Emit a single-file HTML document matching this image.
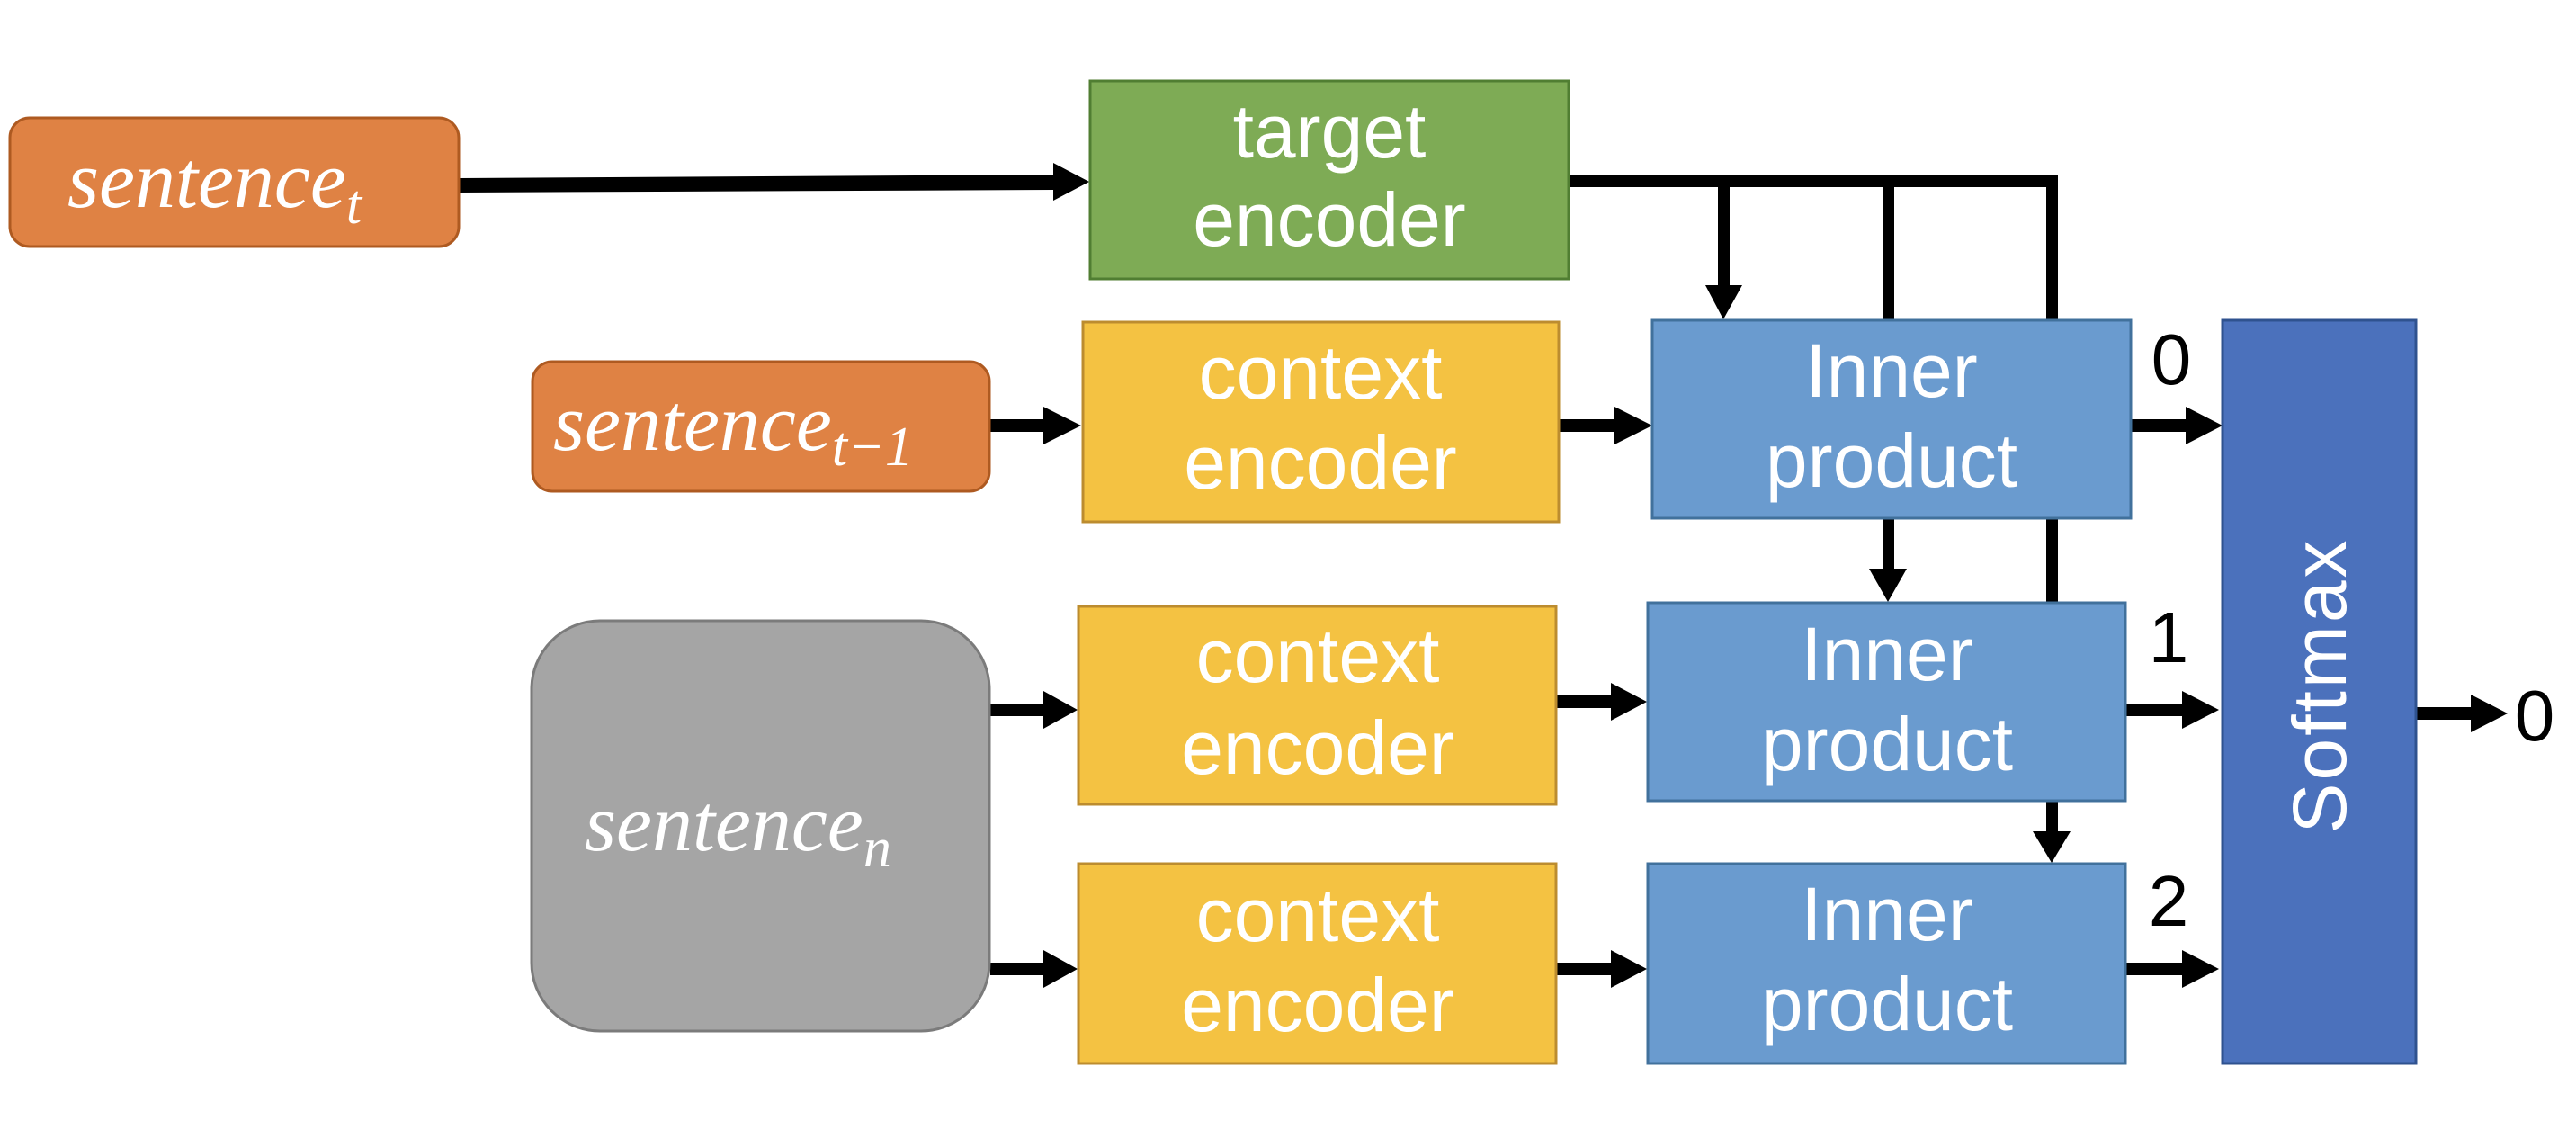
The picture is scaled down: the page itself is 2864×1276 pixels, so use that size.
<!DOCTYPE html>
<html><head><meta charset="utf-8"><style>
html,body{margin:0;padding:0;background:#fff;width:2864px;height:1276px;overflow:hidden}
svg{display:block}
.w{fill:#fff;font-family:"Liberation Sans",sans-serif;font-size:84px;text-anchor:middle}
.s{fill:#fff;font-family:"Liberation Serif",serif;font-style:italic;font-size:90px}
.k{fill:#000;font-family:"Liberation Sans",sans-serif;font-size:80px;text-anchor:middle}
</style></head><body>
<svg width="2864" height="1276" viewBox="0 0 2864 1276" xmlns="http://www.w3.org/2000/svg">
<!-- vertical connectors (behind boxes) -->
<g fill="#000">
<rect x="1745" y="195" width="543" height="13"/>
<rect x="1910" y="195" width="13" height="130"/>
<polygon points="1896,317 1937,317 1916,355"/>
<rect x="2093" y="195" width="13" height="440"/>
<polygon points="2078,632 2120,632 2099,669"/>
<rect x="2275" y="195" width="13" height="735"/>
<polygon points="2260,924 2302,924 2281,959"/>
<!-- horizontal arrows -->
<polygon points="511,198 1172,194 1172,211 511,214"/>
<polygon points="1171,181 1211,202 1171,223"/>
<rect x="1100" y="466" width="65" height="14"/><polygon points="1160,452 1202,473 1160,494"/>
<rect x="1734" y="466" width="65" height="14"/><polygon points="1795,452 1837,473 1795,494"/>
<rect x="2370" y="466" width="62" height="14"/><polygon points="2430,452 2471,473 2430,494"/>
<rect x="1101" y="782" width="62" height="14"/><polygon points="1160,768 1198,789 1160,810"/>
<rect x="1101" y="1070" width="62" height="14"/><polygon points="1160,1056 1198,1077 1160,1098"/>
<rect x="1731" y="773" width="62" height="14"/><polygon points="1791,759 1831,780 1791,801"/>
<rect x="1731" y="1070" width="62" height="14"/><polygon points="1791,1056 1831,1077 1791,1098"/>
<rect x="2364" y="782" width="64" height="14"/><polygon points="2426,768 2467,789 2426,810"/>
<rect x="2364" y="1070" width="64" height="14"/><polygon points="2426,1056 2467,1077 2426,1098"/>
<rect x="2687" y="786" width="62" height="14"/><polygon points="2747,772 2788,793 2747,814"/>
</g>
<!-- boxes -->
<rect x="11" y="131" width="499" height="143" rx="22" fill="#DF8244" stroke="#AE5A21" stroke-width="3"/>
<rect x="592" y="402" width="508" height="144" rx="22" fill="#DF8244" stroke="#AE5A21" stroke-width="3"/>
<rect x="591" y="690" width="509" height="456" rx="76" fill="#A5A5A5" stroke="#7B7B7B" stroke-width="3"/>
<rect x="1212" y="90" width="532" height="220" fill="#7EAB55" stroke="#507E32" stroke-width="3"/>
<rect x="1204" y="358" width="529" height="222" fill="#F4C242" stroke="#BC8C2F" stroke-width="3"/>
<rect x="1199" y="674" width="531" height="220" fill="#F4C242" stroke="#BC8C2F" stroke-width="3"/>
<rect x="1199" y="960" width="531" height="222" fill="#F4C242" stroke="#BC8C2F" stroke-width="3"/>
<rect x="1837" y="356" width="532" height="220" fill="#6A9BCF" stroke="#41719C" stroke-width="3"/>
<rect x="1832" y="670" width="531" height="220" fill="#6A9BCF" stroke="#41719C" stroke-width="3"/>
<rect x="1832" y="960" width="531" height="222" fill="#6A9BCF" stroke="#41719C" stroke-width="3"/>
<rect x="2471" y="356" width="215" height="826" fill="#4B71BC" stroke="#2F528F" stroke-width="3"/>
<!-- text -->
<text class="s" x="75" y="230">sentence<tspan font-size="62" dy="18">t</tspan></text>
<text class="s" x="615" y="500">sentence<tspan font-size="62" dy="17">t−1</tspan></text>
<text class="s" x="650" y="945">sentence<tspan font-size="62" dy="18">n</tspan></text>
<text class="w" x="1478" y="175">target</text><text class="w" x="1478" y="273">encoder</text>
<text class="w" x="1468" y="443">context</text><text class="w" x="1468" y="543">encoder</text>
<text class="w" x="1465" y="758">context</text><text class="w" x="1465" y="860">encoder</text>
<text class="w" x="1465" y="1046">context</text><text class="w" x="1465" y="1146">encoder</text>
<text class="w" x="2103" y="441">Inner</text><text class="w" x="2103" y="541">product</text>
<text class="w" x="2098" y="756">Inner</text><text class="w" x="2098" y="856">product</text>
<text class="w" x="2098" y="1045">Inner</text><text class="w" x="2098" y="1145">product</text>
<text class="w" transform="translate(2608,762) rotate(-90)" letter-spacing="3">Softmax</text>
<text class="k" x="2414" y="427">0</text>
<text class="k" x="2411" y="736">1</text>
<text class="k" x="2411" y="1029">2</text>
<text class="k" x="2818" y="823">0</text>
</svg>
</body></html>
